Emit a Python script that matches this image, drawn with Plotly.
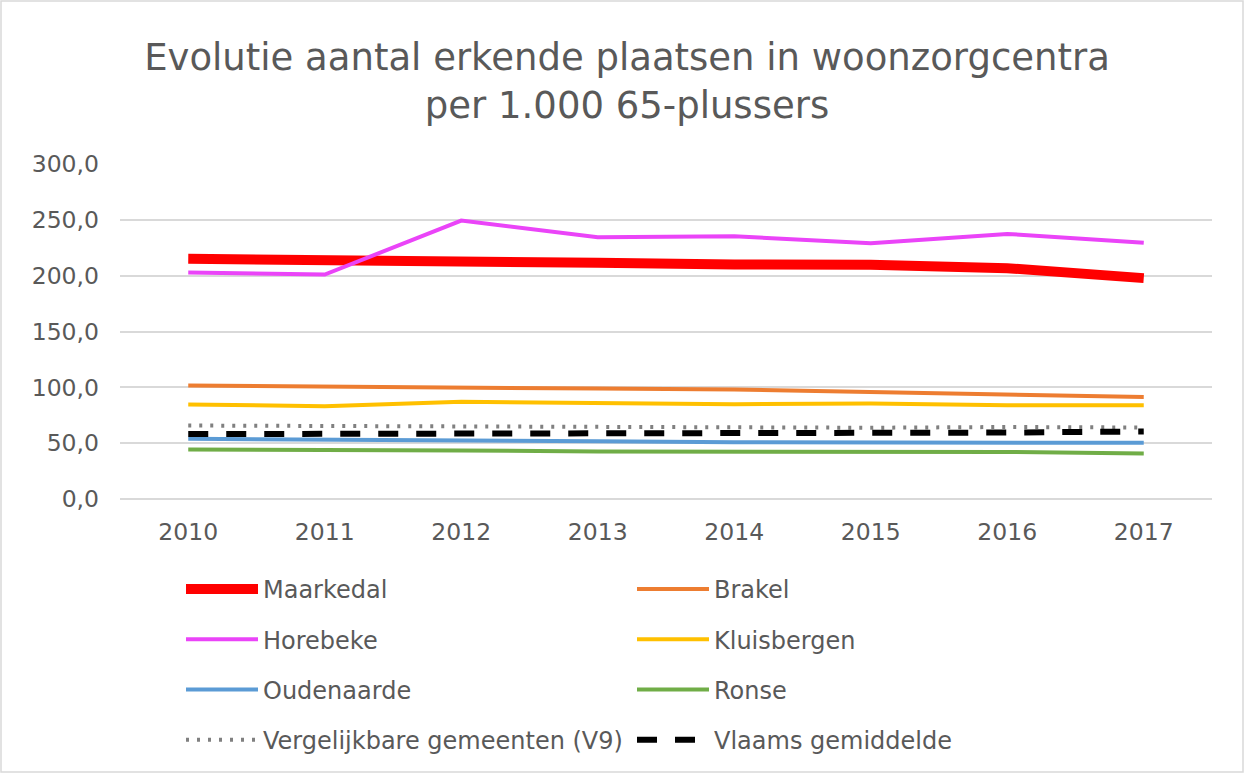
import plotly.graph_objects as go

years = ["2010", "2011", "2012", "2013", "2014", "2015", "2016", "2017"]
maarkedal = [215.1, 214.5, 213.0, 211.5, 210.0, 209.7, 206.7, 197.8]
brakel = [101.6, 101.0, 99.8, 98.9, 98.0, 95.9, 93.0, 91.4]
horebeke = [202.9, 201.0, 249.3, 234.4, 235.3, 229.0, 237.4, 229.4]
kluisbergen = [84.6, 83.1, 87.0, 85.5, 84.9, 85.5, 84.0, 84.0]
oudenaarde = [53.9, 53.5, 52.8, 51.8, 50.8, 50.5, 50.7, 50.3]
ronse = [44.4, 44.2, 43.5, 42.5, 42.2, 41.8, 42.2, 40.8]
v9 = [65.8, 65.5, 65.2, 64.5, 63.8, 63.8, 64.5, 64.0]
vlaams = [58.1, 58.2, 58.3, 58.4, 58.5, 58.7, 59.5, 60.5]

title_text = "Evolutie aantal erkende plaatsen in woonzorgcentra<br>per 1.000 65-plussers"

series = [
    ("Maarkedal", maarkedal, "#FF0000", 10, "solid", "legend"),
    ("Brakel", brakel, "#ED7D31", 4, "solid", "legend2"),
    ("Horebeke", horebeke, "#EA44F8", 4, "solid", "legend"),
    ("Kluisbergen", kluisbergen, "#FFC000", 4, "solid", "legend2"),
    ("Oudenaarde", oudenaarde, "#5B9BD5", 4, "solid", "legend"),
    ("Ronse", ronse, "#70AD47", 4, "solid", "legend2"),
    ("Vergelijkbare gemeenten (V9)", v9, "#808080", 4, "3px,8px", "legend"),
    ("Vlaams gemiddelde", vlaams, "#000000", 6, "20px,18px", "legend2"),
]

FONT = "DejaVu Sans, Verdana, sans-serif"
TXT = "#595959"

fig = go.Figure()
for name, vals, col, w, dash, lg in series:
    fig.add_trace(go.Scatter(
        x=years, y=vals, name=name, mode="lines",
        line=dict(color=col, width=w, dash=dash),
        legend=lg, legendgroup=name,
    ))

W, H = 1245, 774
L, R, T, B = 120, 33, 164, 275
pw, ph = W - L - R, H - T - B

leg_common = dict(
    font=dict(family=FONT, size=24, color=TXT),
    bgcolor="rgba(0,0,0,0)",
    tracegroupgap=16,
    xref="container", yref="container",
    yanchor="top", xanchor="left",
    y=1 - 567 / H,
    itemwidth=72,
)

fig.update_layout(
    width=W, height=H,
    margin=dict(l=L, r=R, t=T, b=B, pad=0, autoexpand=False),
    paper_bgcolor="white", plot_bgcolor="white",
    separators=",.",
    font=dict(family=FONT, color=TXT),
    title=dict(
        text=title_text, x=627 / W, xref="container", xanchor="center",
        yref="container", y=1 - 70 / H, yanchor="top",
        font=dict(family=FONT, size=37, color=TXT),
    ),
    xaxis=dict(
        type="category", range=[-0.5, 7.5], showgrid=False,
        showline=False, zeroline=False,
        tickfont=dict(family=FONT, size=23.5, color=TXT),
        ticks="", ticklabelstandoff=16,
    ),
    yaxis=dict(
        range=[0, 300], dtick=50, tickformat=".1f",
        showgrid=True, gridcolor="#D9D9D9", gridwidth=1.5,
        zeroline=True, zerolinecolor="#D9D9D9", zerolinewidth=1.5,
        showline=False, ticks="",
        tickfont=dict(family=FONT, size=23.5, color=TXT),
        ticklabelstandoff=20,
    ),
    legend=dict(x=181 / W, **leg_common),
    legend2=dict(x=632 / W, **leg_common),
    showlegend=True,
)

# outer chart border
fig.add_shape(
    type="rect", xref="paper", yref="paper",
    x0=(1 - L) / pw, x1=(W - 2 - L) / pw,
    y0=-(B - 2) / ph, y1=(ph + T - 1) / ph,
    line=dict(color="#D9D9D9", width=1.5), fillcolor="rgba(0,0,0,0)",
    layer="below",
)

fig.write_html(
    "out.html",
    config={"displayModeBar": False},
    post_script="document.body.style.margin='0';document.body.style.overflow='hidden';",
)
